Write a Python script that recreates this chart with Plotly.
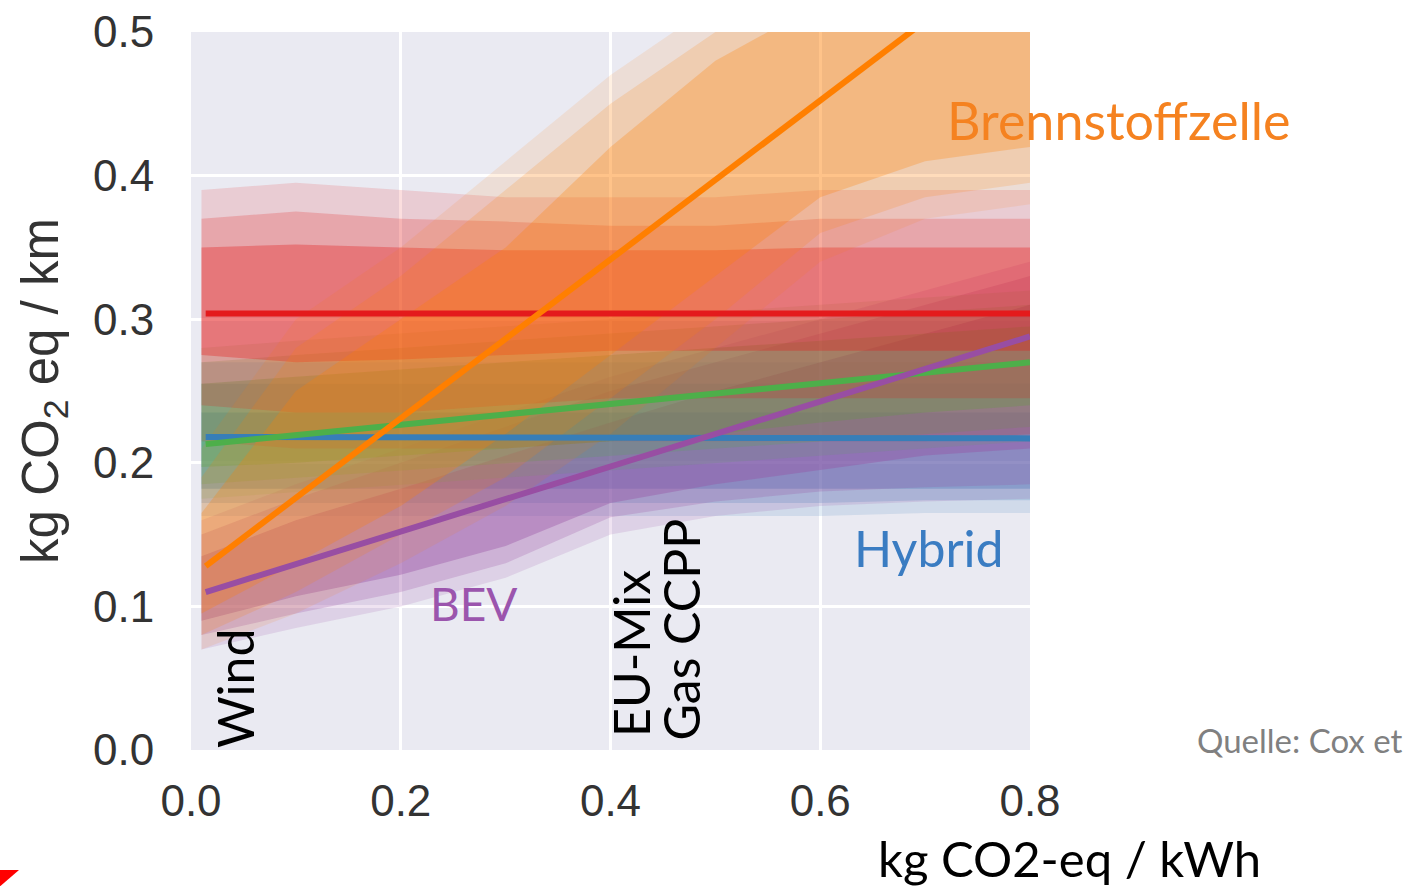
import plotly.graph_objects as go

# ---------------- data ----------------
x_cloud = [0.01, 0.1, 0.2, 0.3, 0.4, 0.5, 0.6, 0.7, 0.8]

# Benzin (petrol) cloud envelopes: halo / outer / inner
benzin_halo_lo = [0.215, 0.21, 0.21, 0.21, 0.215, 0.215, 0.215, 0.215, 0.22]
benzin_halo_hi = [0.39, 0.395, 0.39, 0.385, 0.385, 0.385, 0.39, 0.39, 0.39]
benzin_out_lo = [0.24, 0.235, 0.235, 0.24, 0.245, 0.245, 0.245, 0.245, 0.245]
benzin_out_hi = [0.37, 0.375, 0.37, 0.368, 0.365, 0.365, 0.37, 0.37, 0.37]
benzin_in_lo = [0.275, 0.27, 0.272, 0.275, 0.278, 0.278, 0.278, 0.278, 0.278]
benzin_in_hi = [0.35, 0.352, 0.35, 0.348, 0.348, 0.348, 0.35, 0.35, 0.35]

# Hybrid cloud envelopes
hybrid_halo_lo = [0.163, 0.163, 0.163, 0.163, 0.163, 0.163, 0.163, 0.165, 0.165]
hybrid_halo_hi = [0.27, 0.27, 0.27, 0.27, 0.27, 0.27, 0.27, 0.27, 0.27]
hybrid_out_lo = [0.172, 0.172, 0.172, 0.172, 0.172, 0.172, 0.172, 0.174, 0.174]
hybrid_out_hi = [0.255, 0.255, 0.255, 0.255, 0.255, 0.255, 0.255, 0.255, 0.255]
hybrid_in_lo = [0.182, 0.182, 0.182, 0.182, 0.182, 0.182, 0.182, 0.182, 0.182]
hybrid_in_hi = [0.235, 0.235, 0.235, 0.235, 0.235, 0.235, 0.235, 0.235, 0.235]

# Plug-In-Hybrid cloud envelopes
phev_halo_lo = [0.175, 0.18, 0.185, 0.19, 0.195, 0.2, 0.205, 0.21, 0.215]
phev_halo_hi = [0.28, 0.285, 0.29, 0.295, 0.3, 0.305, 0.31, 0.315, 0.32]
phev_out_lo = [0.185, 0.19, 0.195, 0.2, 0.205, 0.21, 0.215, 0.22, 0.225]
phev_out_hi = [0.27, 0.275, 0.28, 0.285, 0.29, 0.295, 0.3, 0.305, 0.31]
phev_in_lo = [0.197, 0.2, 0.205, 0.21, 0.215, 0.22, 0.228, 0.235, 0.24]
phev_in_hi = [0.255, 0.26, 0.265, 0.27, 0.275, 0.28, 0.285, 0.29, 0.295]

# BEV cloud envelopes
bev_halo_lo = [0.07, 0.085, 0.1, 0.12, 0.15, 0.163, 0.17, 0.173, 0.175]
bev_halo_hi = [0.16, 0.185, 0.21, 0.235, 0.26, 0.28, 0.3, 0.32, 0.34]
bev_out_lo = [0.08, 0.095, 0.11, 0.13, 0.162, 0.173, 0.18, 0.183, 0.185]
bev_out_hi = [0.15, 0.175, 0.2, 0.225, 0.25, 0.27, 0.29, 0.31, 0.33]
bev_in_lo = [0.09, 0.107, 0.122, 0.142, 0.172, 0.185, 0.195, 0.205, 0.21]
bev_in_hi = [0.135, 0.16, 0.182, 0.205, 0.228, 0.25, 0.27, 0.29, 0.31]

# Brennstoffzelle (fuel cell) cloud envelopes
fc_halo_lo = [0.07, 0.095, 0.13, 0.17, 0.22, 0.28, 0.34, 0.37, 0.38]
fc_halo_hi = [0.21, 0.30, 0.35, 0.41, 0.47, 0.52, 0.52, 0.52, 0.52]
fc_out_lo = [0.08, 0.11, 0.15, 0.19, 0.245, 0.30, 0.36, 0.385, 0.395]
fc_out_hi = [0.19, 0.28, 0.33, 0.39, 0.45, 0.5, 0.52, 0.52, 0.52]
fc_in_lo = [0.095, 0.13, 0.17, 0.22, 0.275, 0.33, 0.385, 0.41, 0.42]
fc_in_hi = [0.165, 0.25, 0.3, 0.35, 0.42, 0.48, 0.52, 0.52, 0.52]

# regression lines
line_x = [0.014, 0.8]
benzin_line = [0.304, 0.304]
hybrid_line = [0.218, 0.217]
phev_line = [0.213, 0.270]
bev_line = [0.110, 0.288]
fc_line = [0.128, 0.563]

x_ticks = [0.0, 0.2, 0.4, 0.6, 0.8]
x_tick_text = ["0.0", "0.2", "0.4", "0.6", "0.8"]
y_ticks = [0.0, 0.1, 0.2, 0.3, 0.4, 0.5]
y_tick_text = ["0.0", "0.1", "0.2", "0.3", "0.4", "0.5"]

# ---------------- styles ----------------
C_RED = "#e41a1c"
C_BLUE = "#377eb8"
C_GREEN = "#4daf4a"
C_PURPLE = "#984ea3"
C_ORANGE = "#ff7f00"

def rgba(hexc, a):
    h = hexc.lstrip("#")
    return "rgba(%d,%d,%d,%.3f)" % (int(h[0:2], 16), int(h[2:4], 16), int(h[4:6], 16), a)

fig = go.Figure()

def band(lo, hi, color, alpha):
    xs = list(x_cloud) + list(reversed(x_cloud))
    ys = list(hi) + list(reversed(lo))
    fig.add_trace(go.Scatter(x=xs, y=ys, fill="toself", mode="lines",
                             line=dict(width=0),
                             fillcolor=rgba(color, alpha), hoverinfo="skip",
                             showlegend=False))

clouds = [
    (hybrid_halo_lo, hybrid_halo_hi, hybrid_out_lo, hybrid_out_hi, hybrid_in_lo, hybrid_in_hi, C_BLUE, 1.2),
    (bev_halo_lo, bev_halo_hi, bev_out_lo, bev_out_hi, bev_in_lo, bev_in_hi, C_PURPLE, 1.3),
    (phev_halo_lo, phev_halo_hi, phev_out_lo, phev_out_hi, phev_in_lo, phev_in_hi, C_GREEN, 1.15),
    (benzin_halo_lo, benzin_halo_hi, benzin_out_lo, benzin_out_hi, benzin_in_lo, benzin_in_hi, C_RED, 1.2),
    (fc_halo_lo, fc_halo_hi, fc_out_lo, fc_out_hi, fc_in_lo, fc_in_hi, C_ORANGE, 0.95),
]
for hlo, hhi, olo, ohi, ilo, ihi, col, k in clouds:
    band(hlo, hhi, col, 0.12 * k)
    band(olo, ohi, col, 0.18 * k)
    band(ilo, ihi, col, 0.28 * k)

for ys, col in [(benzin_line, C_RED), (hybrid_line, C_BLUE), (phev_line, C_GREEN),
                (bev_line, C_PURPLE), (fc_line, C_ORANGE)]:
    fig.add_trace(go.Scatter(x=line_x, y=ys, mode="lines",
                             line=dict(color=col, width=6), showlegend=False,
                             hoverinfo="skip"))

LABEL_FONT = "Lato, 'Open Sans', sans-serif"
TICK_FONT = "'Liberation Sans', Arial, sans-serif"

annotations = [
    dict(text="Brennstoffzelle", x=0.719, y=0.4387, color="#f58220", size=52),
    dict(text="Benzin", x=0.814, y=0.322, color="#e3161d", size=51),
    dict(text="Plug-In-Hybrid", x=0.843, y=0.274, color="#5aaa50", size=51),
    dict(text="Hybrid", x=0.630, y=0.141, color="#3a7cc2", size=50),
    dict(text="BEV", x=0.226, y=0.102, color="#9b55ad", size=46),
]
for a in annotations:
    fig.add_annotation(x=a["x"], y=a["y"], xref="x", yref="y", text=a["text"],
                       showarrow=False, xanchor="left", yanchor="middle",
                       font=dict(family=LABEL_FONT, size=a["size"], color=a["color"]))

for txt, xv, yv in [("Wind", 0.042, 0.0), ("EU-Mix", 0.4195, 0.008), ("Gas CCPP", 0.467, 0.005)]:
    fig.add_annotation(x=xv, y=yv, xref="x", yref="y", text=txt, textangle=-90,
                       showarrow=False, xanchor="center", yanchor="bottom",
                       font=dict(family=LABEL_FONT, size=50, color="black"))

fig.add_annotation(x=1.1967, y=0.014, xref="paper", yref="paper", text="Quelle: Cox et",
                   showarrow=False, xanchor="left", yanchor="middle",
                   font=dict(family=LABEL_FONT, size=33, color="#808080"))
fig.add_annotation(x=0.8165, y=-0.150, xref="paper", yref="paper", text="kg CO2-eq / kWh",
                   showarrow=False, xanchor="left", yanchor="middle",
                   font=dict(family=LABEL_FONT, size=49, color="black"))

fig.add_shape(type="path", xref="paper", yref="paper",
              path="M -0.2277,-0.167 L -0.205,-0.167 L -0.2277,-0.19 Z",
              fillcolor="#ff0000", line=dict(width=0))

fig.update_layout(
    width=1408, height=886,
    margin=dict(l=191, r=378, t=32, b=136),
    paper_bgcolor="white",
    plot_bgcolor="#eaeaf2",
    showlegend=False,
    xaxis=dict(range=[0, 0.8], tickvals=x_ticks, ticktext=x_tick_text, automargin=False,
               showgrid=True, gridcolor="white", gridwidth=3, zeroline=False,
               showline=False, ticks="outside", ticklen=12, tickcolor="rgba(0,0,0,0)",
               tickfont=dict(family=TICK_FONT, size=44, color="#333333")),
    yaxis=dict(range=[0, 0.5], tickvals=y_ticks, ticktext=y_tick_text, automargin=False,
               showgrid=True, gridcolor="white", gridwidth=3, zeroline=False,
               showline=False, ticks="outside", ticklen=27, tickcolor="rgba(0,0,0,0)",
               tickfont=dict(family=TICK_FONT, size=44, color="#333333"),
               title=dict(text="kg CO<sub>2</sub> eq / km", standoff=18,
                          font=dict(family=TICK_FONT, size=51, color="#333333"))),
)

fig.write_html("out.html", config={"displayModeBar": False},
               post_script="document.body.style.margin='0';document.body.style.overflow='hidden';")
